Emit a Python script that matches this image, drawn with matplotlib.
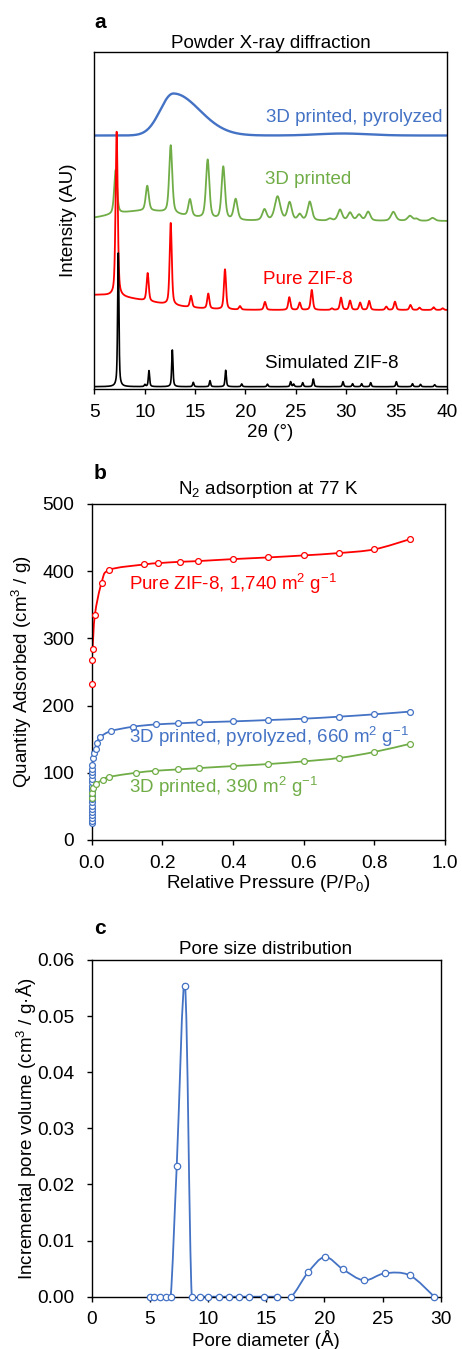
import numpy as np
import matplotlib
matplotlib.use('Agg')
import matplotlib.pyplot as plt
from matplotlib.path import Path
from matplotlib.patches import PathPatch

plt.rcParams['font.family'] = ['Liberation Sans', 'DejaVu Sans']
plt.rcParams['mathtext.fontset'] = 'custom'
plt.rcParams['mathtext.rm'] = 'Liberation Sans'
plt.rcParams['mathtext.it'] = 'Liberation Sans:italic'
plt.rcParams['mathtext.bf'] = 'Liberation Sans:bold'

BLUE = '#4472C4'
GREEN = '#70AD47'
RED = '#FF0000'
BLACK = '#000000'

# ---------------- Panel a: PXRD peak lists (2theta, height, FWHM) ----------------
sim_offset = 2.3
sim_pos = [7.38, 10.03, 10.43, 12.75, 14.83, 16.49, 18.05, 19.64, 22.2, 24.5, 24.8, 25.7,
           26.75, 29.7, 30.65, 31.55, 32.45, 35.0, 36.6, 37.4, 38.8]
sim_h = [133.7, 2.0, 16.0, 36.7, 4.3, 6.0, 16.4, 2.7, 2.5, 5.0, 2.5, 4.0,
         7.7, 5.0, 3.0, 3.0, 4.0, 5.0, 3.0, 2.3, 2.0]
sim_w = 0.15

zif_offset = 79.0
zif_bg = (5.0, 15.0, 12.0)       # broad background: centre, height, FWHM
zif_pos = [7.22, 10.3, 12.59, 14.6, 16.32, 17.98, 19.47, 21.95, 24.37, 25.4, 26.6, 28.6,
           29.5, 30.4, 31.4, 32.3, 34.0, 34.86, 36.4, 37.3, 38.7, 39.6]
zif_h = [164.6, 28.0, 82.0, 11.5, 15.0, 40.0, 3.5, 8.0, 12.7, 7.3, 20.0, 1.5,
         12.3, 9.3, 7.3, 9.0, 3.3, 8.3, 5.0, 2.3, 2.7, 1.7]
zif_w = 0.25

prt_offset = 168.0
prt_bg = (10.0, 10.0, 8.0)
prt_pos = [7.12, 10.26, 12.59, 14.5, 16.26, 17.81, 19.04, 21.9, 23.2, 24.4, 25.4, 26.4,
           28.4, 29.4, 30.4, 31.3, 32.2, 34.7, 36.35, 37.0, 38.6]
prt_h = [44.0, 25.0, 68.0, 17.0, 59.0, 53.0, 21.0, 11.0, 24.0, 18.0, 6.0, 19.0,
         2.0, 11.0, 8.0, 6.0, 9.0, 9.0, 5.0, 2.0, 3.0]
prt_wid = [0.34, 0.36, 0.36, 0.38, 0.4, 0.4, 0.45, 0.5, 0.65, 0.5, 0.45, 0.5,
           0.45, 0.5, 0.5, 0.5, 0.5, 0.55, 0.55, 0.45, 0.55]

pyr_offset = 253.5
pyr_hump = (12.85, 42.0, 1.3, 2.6)   # centre, height, sigma left, sigma right
pyr_bump = (29.7, 2.0, 2.5)

# ---------------- Panel b: N2 isotherms ----------------
zif_p = [0.0003, 0.0008, 0.0025, 0.009, 0.028, 0.05, 0.148, 0.189, 0.25, 0.30,
         0.40, 0.50, 0.60, 0.70, 0.80, 0.90]
zif_q = [232, 268, 284, 335, 383, 402, 410, 412, 414, 415,
         418, 420.5, 423.5, 427, 432.5, 447.5]

pyr_p = [0.00001, 0.00002, 0.00003, 0.00004, 0.00005, 0.00006, 0.00008, 0.0001, 0.00012,
         0.00015, 0.0002, 0.00025, 0.0003, 0.0004, 0.0005, 0.0006, 0.0008, 0.001, 0.0012,
         0.003, 0.006, 0.011, 0.014, 0.024, 0.054, 0.116, 0.182, 0.245, 0.303,
         0.40, 0.50, 0.60, 0.70, 0.80, 0.90]
pyr_q = [25, 29, 33, 37, 41, 46, 51, 56, 61, 66, 71, 76, 81, 86, 91, 96, 101, 106, 111,
         121.5, 130, 136, 144, 153, 162, 168.5, 172, 173.5, 175,
         176.5, 178.5, 180.5, 183.5, 187, 191]

prt_p = [0.0005, 0.001, 0.003, 0.012, 0.032, 0.05, 0.125, 0.18, 0.245, 0.303,
         0.40, 0.50, 0.60, 0.70, 0.80, 0.90]
prt_q = [62, 69.5, 77, 83, 90, 94, 100, 103, 105, 107,
         110, 113, 117, 122, 131, 143]

# ---------------- Panel c: pore size distribution ----------------
pore_d = [4.98, 5.36, 5.87, 6.36, 6.79, 7.31, 8.02, 8.6, 9.31, 10.02, 10.9, 11.8,
          12.69, 13.55, 14.84, 15.9, 17.13, 18.6, 20.05, 21.6, 23.4, 25.2, 27.33, 29.45]
pore_v = [0, 0, 0, 0, 0, 0.0233, 0.0554, 0, 0, 0, 0, 0,
          0, 0, 0, 0, 0, 0.00434, 0.00708, 0.00488, 0.00292, 0.00417, 0.00381, 0]


# ---------------- helpers ----------------
def pv_sum(x, pos, h, w, eta=0.5):
    y = np.zeros_like(x)
    w = np.broadcast_to(np.asarray(w, dtype=float), (len(pos),))
    for p, hh, ww in zip(pos, h, w):
        d = (x - p) / ww
        y += hh * (eta / (1 + 4 * d ** 2) + (1 - eta) * np.exp(-4 * np.log(2) * d ** 2))
    return y


def gauss(x, c, h, fw):
    return h * np.exp(-4 * np.log(2) * ((x - c) / fw) ** 2)


def smooth_line(ax, xs, ys, color, lw):
    P = np.column_stack([xs, ys]).astype(float)
    n = len(P)
    verts = [P[0]]
    codes = [Path.MOVETO]
    for i in range(n - 1):
        p0 = P[i - 1] if i > 0 else P[i]
        p1 = P[i]
        p2 = P[i + 1]
        p3 = P[i + 2] if i + 2 < n else P[i + 1]
        c1 = p1 + (p2 - p0) / 6.0
        c2 = p2 - (p3 - p1) / 6.0
        verts += [c1, c2, p2]
        codes += [Path.CURVE4] * 3
    patch = PathPatch(Path(verts, codes), facecolor='none', edgecolor=color, lw=lw,
                      zorder=2, capstyle='round', joinstyle='round')
    ax.add_patch(patch)


def style_axes(ax, fs=13.8):
    for s in ax.spines.values():
        s.set_linewidth(1.0)
        s.set_color('black')
    ax.tick_params(axis='both', labelsize=fs, colors='black', width=1.0)
    ax.tick_params(axis='y', direction='out', length=3.5, pad=9)
    ax.tick_params(axis='x', direction='out', length=3.5, pad=7)


fig = plt.figure(figsize=(4.62, 13.49), dpi=100)
W, H = 462.0, 1349.0


def axes_px(l, t, r, b):
    return fig.add_axes([l / W, (H - b) / H, (r - l) / W, (b - t) / H])


FS = 13.5

# ---------------- Panel a ----------------
axa = axes_px(94.3, 52, 446.7, 389)
x = np.arange(5.0, 40.0001, 0.01)
c, hh, sl, sr = pyr_hump
sig = np.where(x < c, sl, sr)
y_pyr = pyr_offset + hh * np.exp(-0.5 * ((x - c) / sig) ** 2) \
    + pyr_bump[1] * np.exp(-0.5 * ((x - pyr_bump[0]) / pyr_bump[2]) ** 2)
y_prt = prt_offset + gauss(x, *prt_bg) + pv_sum(x, prt_pos, prt_h, prt_wid)
y_zif = zif_offset + gauss(x, *zif_bg) + pv_sum(x, zif_pos, zif_h, zif_w)
y_sim = sim_offset + pv_sum(x, sim_pos, sim_h, sim_w, eta=0.6)

axa.plot(x, y_pyr, color=BLUE, lw=1.7, zorder=2)
axa.plot(x, y_prt, color=GREEN, lw=1.3, zorder=2.1)
axa.plot(x, y_zif, color=RED, lw=1.3, zorder=2.2)
axa.plot(x, y_sim, color=BLACK, lw=1.2, zorder=2.3)
axa.set_xlim(5, 40)
axa.set_ylim(0, 337)
axa.set_xticks(np.arange(5, 41, 5))
axa.set_yticks([])
style_axes(axa)
axa.text(39.6, 271, '3D printed, pyrolyzed', color=BLUE, fontsize=FS, ha='right', va='center')
axa.text(21.95, 209, '3D printed', color=GREEN, fontsize=FS, ha='left', va='center')
axa.text(21.8, 110, 'Pure ZIF-8', color=RED, fontsize=FS, ha='left', va='center')
axa.text(22.0, 26, 'Simulated ZIF-8', color=BLACK, fontsize=FS, ha='left', va='center')
axa.set_xlabel('2θ (°)', fontsize=FS)
axa.xaxis.label.set_va('center')
axa.xaxis.set_label_coords(0.5, -0.128)
axa.set_ylabel('Intensity (AU)', fontsize=FS)
axa.yaxis.label.set_va('center')
axa.yaxis.set_label_coords(-0.072, 0.5)
fig.text(270.5 / W, 1 - 43 / H, 'Powder X-ray diffraction', fontsize=FS, ha='center', va='center')
fig.text(94 / W, 1 - 23 / H, 'a', fontsize=15, fontweight='bold', ha='left', va='center')

# ---------------- Panel b ----------------
axb = axes_px(91.7, 504, 445, 840)
for p, q, col in [(zif_p, zif_q, RED), (pyr_p, pyr_q, BLUE), (prt_p, prt_q, GREEN)]:
    smooth_line(axb, p, q, col, 1.3)
    axb.plot(p, q, linestyle='none', marker='o', ms=4.2, mfc='white', mec=col, mew=0.9,
             zorder=3, clip_on=False)
axb.set_xlim(0, 1.0)
axb.set_ylim(0, 500)
axb.set_xticks(np.arange(0, 1.01, 0.2))
axb.set_xticklabels(['0.0', '0.2', '0.4', '0.6', '0.8', '1.0'])
axb.set_yticks(np.arange(0, 501, 100))
style_axes(axb)
axb.text(0.106, 381, 'Pure ZIF-8, 1,740 m$^2$ g$^{-1}$', color=RED, fontsize=FS, ha='left', va='center')
axb.text(0.106, 153.7, '3D printed, pyrolyzed, 660 m$^2$ g$^{-1}$', color=BLUE, fontsize=FS, ha='left', va='center')
axb.text(0.106, 79.3, '3D printed, 390 m$^2$ g$^{-1}$', color=GREEN, fontsize=FS, ha='left', va='center')
axb.set_xlabel('Relative Pressure (P/P$_0$)', fontsize=FS)
axb.xaxis.label.set_va('center')
axb.xaxis.set_label_coords(0.5, -0.128)
axb.set_ylabel('Quantity Adsorbed (cm$^3$ / g)', fontsize=FS)
axb.yaxis.label.set_va('center')
axb.yaxis.set_label_coords(-0.197, 0.5)
fig.text(268 / W, 1 - 490 / H, 'N$_2$ adsorption at 77 K', fontsize=FS, ha='center', va='center')
fig.text(94 / W, 1 - 473 / H, 'b', fontsize=15, fontweight='bold', ha='left', va='center')

# ---------------- Panel c ----------------
axc = axes_px(91.7, 960, 440.7, 1296.7)
smooth_line(axc, pore_d, pore_v, BLUE, 1.3)
axc.plot(pore_d, pore_v, linestyle='none', marker='o', ms=4.6, mfc='white', mec=BLUE, mew=0.9,
         zorder=3, clip_on=False)
axc.set_xlim(0, 30)
axc.set_ylim(0, 0.06)
axc.set_xticks(np.arange(0, 31, 5))
axc.set_yticks(np.arange(0, 0.0601, 0.01))
axc.set_yticklabels(['0.00', '0.01', '0.02', '0.03', '0.04', '0.05', '0.06'])
style_axes(axc)
axc.set_xlabel('Pore diameter (Å)', fontsize=FS)
axc.xaxis.label.set_va('center')
axc.xaxis.set_label_coords(0.5, -0.13)
axc.set_ylabel('Incremental pore volume (cm$^3$ / g·Å)', fontsize=FS)
axc.yaxis.label.set_va('center')
axc.yaxis.set_label_coords(-0.186, 0.5)
fig.text(266 / W, 1 - 949 / H, 'Pore size distribution', fontsize=FS, ha='center', va='center')
fig.text(94 / W, 1 - 928 / H, 'c', fontsize=15, fontweight='bold', ha='left', va='center')

fig.savefig('out.png', dpi=100)
